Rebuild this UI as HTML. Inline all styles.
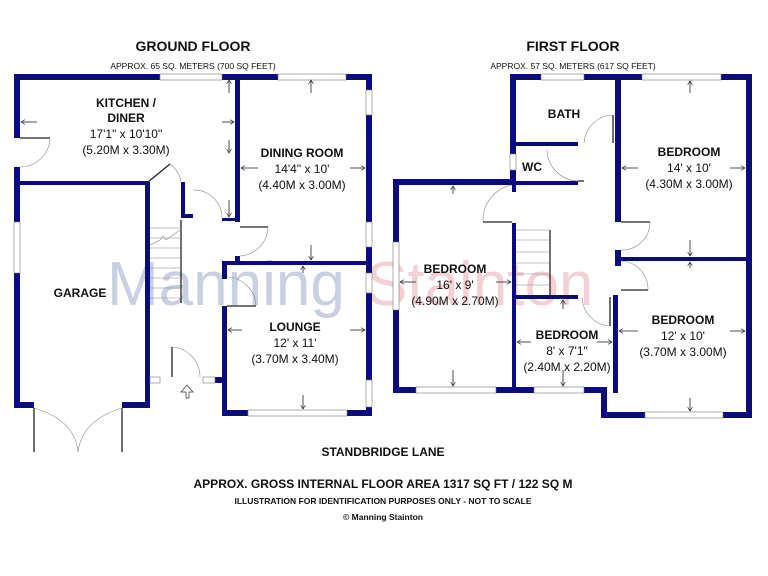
<!DOCTYPE html>
<html><head><meta charset="utf-8"><style>
html,body{margin:0;padding:0;background:#fff}
svg{display:block}
text{font-family:"Liberation Sans",Arial,sans-serif;fill:#111}
.b{font-weight:bold}
</style></head><body>
<svg width="768" height="576" viewBox="0 0 768 576" xmlns="http://www.w3.org/2000/svg">
<defs><marker id="a" markerWidth="6" markerHeight="6" refX="5" refY="3" orient="auto"><path d="M0,0 L5,3 L0,6" fill="none" stroke="#222" stroke-width="0.8"/></marker></defs>
<!-- watermark -->
<text x="107" y="305" font-size="62" style="fill:#c9d0e2">Manning</text>
<text x="366" y="305" font-size="62" style="fill:#f3d0d4">Stainton</text>
<g fill="#0b0b80">
<rect x="14" y="74" width="358" height="6"/>
<rect x="14" y="74" width="6" height="64"/>
<rect x="14" y="167" width="6" height="55"/>
<rect x="14" y="273" width="6" height="135"/>
<rect x="20" y="181" width="128" height="4"/>
<rect x="14" y="402" width="20" height="6"/>
<rect x="122" y="402" width="28" height="6"/>
<rect x="145" y="182" width="5" height="226"/>
<rect x="181" y="182" width="4" height="36"/>
<rect x="181" y="214" width="12" height="4"/>
<rect x="235" y="74" width="5" height="148"/>
<rect x="222" y="218" width="18" height="3"/>
<rect x="235" y="256" width="5" height="8"/>
<rect x="222" y="261" width="150" height="4"/>
<rect x="222" y="261" width="5" height="18"/>
<rect x="222" y="306" width="5" height="110"/>
<rect x="222" y="410" width="150" height="6"/>
<rect x="366" y="74" width="6" height="342"/>
<rect x="145" y="377" width="15" height="6"/>
<rect x="203" y="377" width="24" height="6"/>
<rect x="510" y="74" width="242" height="6"/>
<rect x="510" y="74" width="6" height="80"/>
<rect x="510" y="170" width="6" height="15"/>
<rect x="516" y="142" width="62" height="4"/>
<rect x="516" y="181" width="62" height="4"/>
<rect x="615" y="74" width="6" height="148"/>
<rect x="615" y="250" width="6" height="16"/>
<rect x="393" y="179" width="123" height="6"/>
<rect x="393" y="179" width="6" height="63"/>
<rect x="393" y="310" width="6" height="83"/>
<rect x="393" y="387" width="208" height="6"/>
<rect x="512" y="223" width="4" height="170"/>
<rect x="512" y="185" width="4" height="7"/>
<rect x="516" y="295" width="62" height="4"/>
<rect x="613" y="295" width="5" height="98"/>
<rect x="618" y="257" width="134" height="4"/>
<rect x="746" y="74" width="6" height="344"/>
<rect x="601" y="387" width="6" height="31"/>
<rect x="601" y="412" width="151" height="6"/>
</g>
<g fill="#fff" stroke="#777" stroke-width="0.6">
<rect x="160" y="74" width="62" height="6"/><rect x="278" y="74" width="68" height="6"/>
<rect x="14" y="222" width="6" height="51"/>
<rect x="366" y="90" width="6" height="25"/><rect x="366" y="222" width="6" height="25"/>
<rect x="366" y="273" width="6" height="20"/><rect x="366" y="380" width="6" height="27"/>
<rect x="248" y="410" width="99" height="6"/>
<rect x="150" y="377" width="10" height="6"/><rect x="203" y="377" width="12" height="6"/>
<rect x="541" y="74" width="43" height="6"/><rect x="642" y="74" width="79" height="6"/>
<rect x="510" y="154" width="6" height="16"/>
<rect x="393" y="242" width="6" height="68"/>
<rect x="416" y="387" width="80" height="6"/><rect x="534" y="387" width="50" height="6"/>
<rect x="645" y="412" width="78" height="6"/>
</g>
<g fill="none" stroke="#222" stroke-width="1.3">
<path d="M20 138 H50"/><path d="M148 182 L170 164"/>
<path d="M34 408 V452"/><path d="M122 408 V452"/>
<path d="M240 227 H268"/><path d="M227 306 H256"/><path d="M172 347 V377"/>
<path d="M181 220 V303"/>
<path d="M613 115 V143"/><path d="M578 181 H584"/><path d="M483 222 H512"/>
<path d="M621 222 H650"/><path d="M621 290 H648"/><path d="M610 297 V326"/>
<path d="M550 230 V295"/>
</g>
<g fill="none" stroke="#888" stroke-width="0.6">
<path d="M50 138 A30 30 0 0 1 20 167"/><path d="M170 164 A28 28 0 0 1 181 182"/>
<path d="M193 190 A28 28 0 0 1 222 218"/><path d="M268 227 A30 30 0 0 1 240 256"/>
<path d="M227 277 A30 30 0 0 1 256 306"/><path d="M172 347 A30 30 0 0 1 200 377"/>
<path d="M34 408 Q75 420 78 452"/><path d="M122 408 Q82 420 78 452"/>
<path d="M613 115 A30 30 0 0 0 584 143"/><path d="M547 150 A32 32 0 0 0 578 181"/>
<path d="M483 222 A36 36 0 0 1 512 185"/><path d="M650 222 A28 28 0 0 1 621 250"/>
<path d="M621 261 A28 28 0 0 1 648 290"/><path d="M582 297 A30 30 0 0 0 610 326"/>
<path d="M150 228 H181 M150 238 H181 M150 248 H181 M150 258 H181 M150 268 H181 M150 278 H181 M150 288 H181 M150 298 H181"/>
<path d="M150 245 L160 240 L163 236 L166 240 L180 230"/>
<path d="M516 230 H550 M516 240 H550 M516 252 H550 M516 263 H550 M516 274 H550 M516 285 H550"/>
</g>
<path d="M186 398 V392 H181 L187 385 L193 392 H189 V398 Z" fill="#fff" stroke="#333" stroke-width="0.7"/>
<g stroke="#222" stroke-width="0.8" marker-end="url(#a)">
<path d="M37 122 H21"/><path d="M222 122 H234"/><path d="M229 93 V80"/>
<path d="M229 140 V153"/><path d="M229 200 V217"/>
<path d="M258 168 H241"/><path d="M350 168 H365"/>
<path d="M311 93 V80"/><path d="M311 245 V260"/><path d="M303 273 V266"/>
<path d="M242 330 H228"/><path d="M350 330 H365"/><path d="M303 395 V409"/>
<path d="M453 194 V186"/><path d="M453 370 V386"/>
<path d="M416 282 H400"/><path d="M496 282 H511"/>
<path d="M563 309 V300"/><path d="M563 370 V386"/>
<path d="M531 342 H517"/><path d="M597 342 H612"/>
<path d="M690 93 V81"/><path d="M690 240 V256"/><path d="M690 268 V262"/>
<path d="M638 168 H622"/><path d="M730 168 H745"/>
<path d="M638 331 H619"/><path d="M730 331 H745"/><path d="M690 398 V411"/>
</g>
<g text-anchor="middle">
<text x="193" y="51" class="b" font-size="14">GROUND FLOOR</text>
<text x="193" y="69" font-size="8.5">APPROX. 65 SQ. METERS (700 SQ FEET)</text>
<text x="573" y="51" class="b" font-size="14">FIRST FLOOR</text>
<text x="573" y="69" font-size="8.5">APPROX. 57 SQ. METERS (617 SQ FEET)</text>
<text x="126" y="107" class="b" font-size="12">KITCHEN /</text>
<text x="126" y="122" class="b" font-size="12">DINER</text>
<text x="126" y="138" font-size="12">17'1" x 10'10"</text>
<text x="126" y="154" font-size="12">(5.20M x 3.30M)</text>
<text x="302" y="157" class="b" font-size="12">DINING ROOM</text>
<text x="302" y="173" font-size="12">14'4" x 10'</text>
<text x="302" y="189" font-size="12">(4.40M x 3.00M)</text>
<text x="80" y="297" class="b" font-size="12">GARAGE</text>
<text x="295" y="331" class="b" font-size="12">LOUNGE</text>
<text x="295" y="347" font-size="12">12' x 11'</text>
<text x="295" y="363" font-size="12">(3.70M x 3.40M)</text>
<text x="564" y="118" class="b" font-size="12">BATH</text>
<text x="532" y="171" class="b" font-size="12">WC</text>
<text x="689" y="156" class="b" font-size="12">BEDROOM</text>
<text x="689" y="172" font-size="12">14' x 10'</text>
<text x="689" y="188" font-size="12">(4.30M x 3.00M)</text>
<text x="455" y="273" class="b" font-size="12">BEDROOM</text>
<text x="455" y="289" font-size="12">16' x 9'</text>
<text x="455" y="305" font-size="12">(4.90M x 2.70M)</text>
<text x="567" y="339" class="b" font-size="12">BEDROOM</text>
<text x="567" y="355" font-size="12">8' x 7'1"</text>
<text x="567" y="371" font-size="12">(2.40M x 2.20M)</text>
<text x="683" y="324" class="b" font-size="12">BEDROOM</text>
<text x="683" y="340" font-size="12">12' x 10'</text>
<text x="683" y="356" font-size="12">(3.70M x 3.00M)</text>
<text x="383" y="456" class="b" font-size="12">STANDBRIDGE LANE</text>
<text x="383" y="488" class="b" font-size="12">APPROX. GROSS INTERNAL FLOOR AREA 1317 SQ FT / 122 SQ M</text>
<text x="383" y="504" class="b" font-size="8.5">ILLUSTRATION FOR IDENTIFICATION PURPOSES ONLY - NOT TO SCALE</text>
<text x="383" y="520" class="b" font-size="8.5">© Manning Stainton</text>
</g>
</svg>
</body></html>
